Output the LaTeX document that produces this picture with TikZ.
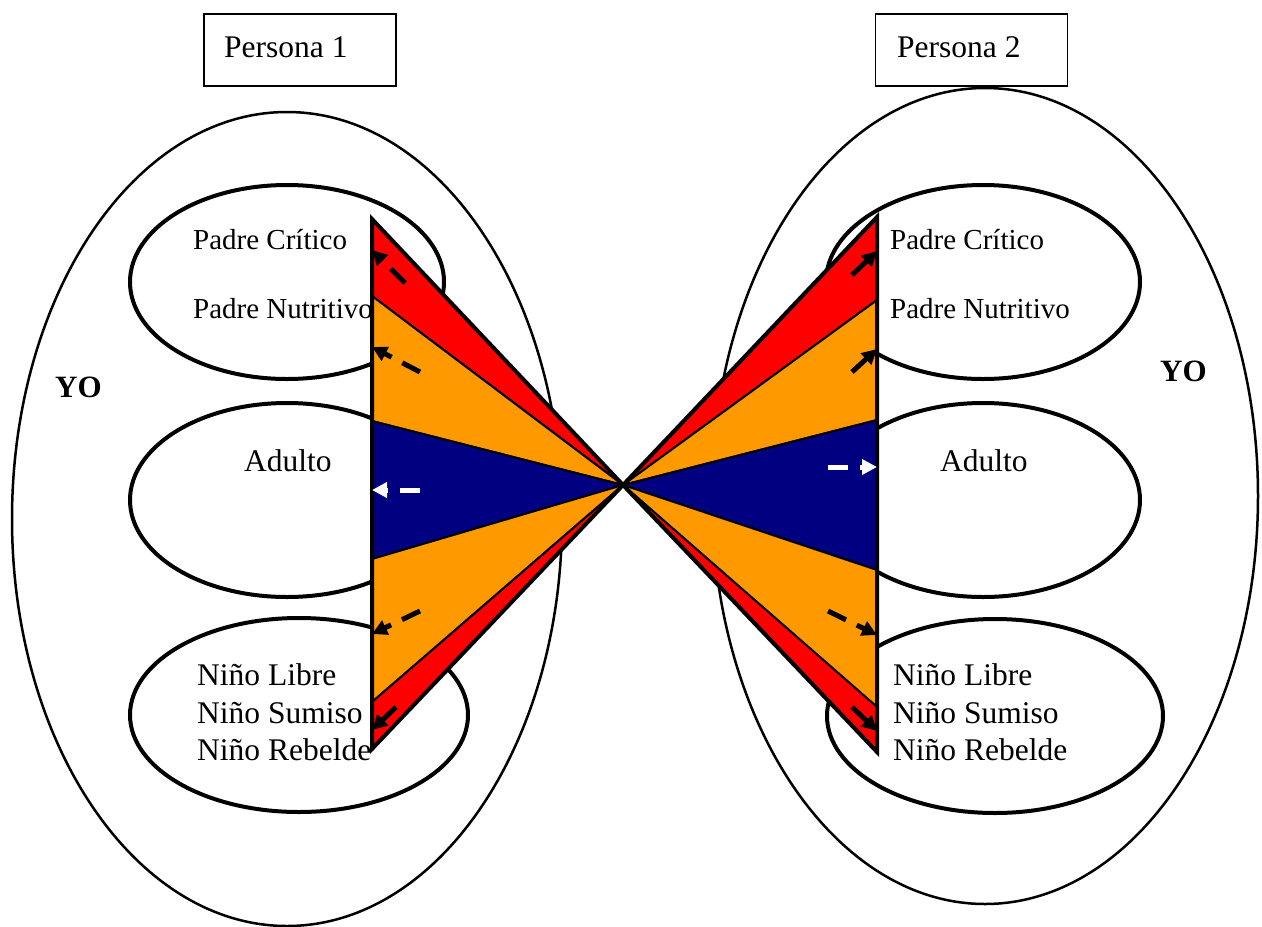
\documentclass[tikz,border=0pt]{standalone}
\usepackage{fontspec}
\setmainfont{Liberation Serif}
\usetikzlibrary{shapes.geometric,arrows.meta}
\definecolor{critred}{RGB}{255,0,0}
\definecolor{nutorange}{RGB}{255,153,0}
\definecolor{adultblue}{RGB}{0,0,128}
\tikzset{
  yoshape/.style={draw,ellipse,line width=2.5pt,inner sep=0pt},
  egoshape/.style={draw,ellipse,line width=4pt,inner sep=0pt,minimum height=194pt},
  lbl/.style={anchor=base west,inner sep=0pt,font=\fontsize{31.5}{35}\selectfont},
  plbl/.style={anchor=base west,inner sep=0pt,font=\fontsize{29}{33}\selectfont},
  namebox/.style={draw,line width=1.5pt,minimum width=192pt,minimum height=72pt,inner sep=0pt},
  wedge/.style={draw,line width=2pt,line join=miter},
  edgeline/.style={line width=4pt},
  flow/.style={line width=5pt,-{Triangle[length=15pt,width=15pt]}},
  dflow/.style={flow,dash pattern=on 20pt off 12pt}
}
\begin{document}
\begin{tikzpicture}[x=1pt,y=-1pt]
\useasboundingbox (0,0) rectangle (1262,927);

% outer ego-state containers
\node[yoshape,minimum width=550pt,minimum height=814pt] (yo1) at (287,519) {};
\node[yoshape,minimum width=546pt,minimum height=816pt] (yo2) at (985,496) {};

% ego states, person 1
\node[egoshape,minimum width=314pt] (p1) at (287,282) {};
\node[egoshape,minimum width=314pt] (a1) at (287,500) {};
\node[egoshape,minimum width=338pt] (n1) at (299,715) {};
% ego states, person 2
\node[egoshape,minimum width=314pt] (p2) at (983,282) {};
\node[egoshape,minimum width=314pt] (a2) at (983,500) {};
\node[egoshape,minimum width=336pt] (n2) at (995,716) {};

% labels
\node[plbl] (pc1) at (193,249) {Padre Crítico};
\node[plbl] (pn1) at (193,318) {Padre Nutritivo};
\node[lbl] (ad1) at (244,471) {Adulto};
\node[lbl] (nl1) at (197,685) {Niño Libre};
\node[lbl] (ns1) at (197,723) {Niño Sumiso};
\node[lbl] (nr1) at (197,760) {Niño Rebelde};
\node[lbl,font=\fontsize{31}{35}\selectfont\bfseries] (yol1) at (55,397) {YO};

\node[plbl] (pc2) at (890,249) {Padre Crítico};
\node[plbl] (pn2) at (890,318) {Padre Nutritivo};
\node[lbl] (ad2) at (940,471) {Adulto};
\node[lbl] (nl2) at (893,685) {Niño Libre};
\node[lbl] (ns2) at (893,723) {Niño Sumiso};
\node[lbl] (nr2) at (893,760) {Niño Rebelde};
\node[lbl,font=\fontsize{31}{35}\selectfont\bfseries] (yol2) at (1160,381) {YO};

% meeting point and wedge corners
\coordinate (o) at (623,485);
\coordinate (l0) at (372,219);
\coordinate (l1) at (372,296);
\coordinate (l2) at (372,421);
\coordinate (l3) at (372,559);
\coordinate (l4) at (372,702);
\coordinate (l5) at (372,749);
\coordinate (r0) at (877,217);
\coordinate (r1) at (877,300);
\coordinate (r2) at (877,420);
\coordinate (r3) at (877,570);
\coordinate (r4) at (877,707);
\coordinate (r5) at (877,752);

% wedges
\filldraw[wedge,fill=critred]    (o) -- (l0) -- (l1) -- cycle;
\filldraw[wedge,fill=nutorange]  (o) -- (l1) -- (l2) -- cycle;
\filldraw[wedge,fill=adultblue]  (o) -- (l2) -- (l3) -- cycle;
\filldraw[wedge,fill=nutorange]  (o) -- (l3) -- (l4) -- cycle;
\filldraw[wedge,fill=critred]    (o) -- (l4) -- (l5) -- cycle;
\filldraw[wedge,fill=critred]    (o) -- (r0) -- (r1) -- cycle;
\filldraw[wedge,fill=nutorange]  (o) -- (r1) -- (r2) -- cycle;
\filldraw[wedge,fill=adultblue]  (o) -- (r2) -- (r3) -- cycle;
\filldraw[wedge,fill=nutorange]  (o) -- (r3) -- (r4) -- cycle;
\filldraw[wedge,fill=critred]    (o) -- (r4) -- (r5) -- cycle;
\draw[edgeline,line cap=butt] (o) -- (l0) -- (l5) -- cycle;
\draw[edgeline,line cap=butt] (o) -- (r0) -- (r5) -- cycle;

% transaction arrows, person 1 side
\coordinate (t1a) at (405,283); \coordinate (h1a) at (372,250);
\coordinate (t1b) at (420,372); \coordinate (h1b) at (372,347);
\coordinate (t1c) at (420,490); \coordinate (h1c) at (372,490);
\coordinate (t1d) at (420,611); \coordinate (h1d) at (372,634);
\coordinate (t1e) at (396,707); \coordinate (h1e) at (372,730);
\draw[dflow] (t1a) -- (h1a);
\draw[dflow] (t1b) -- (h1b);
\draw[dflow,white] (t1c) -- (h1c);
\draw[dflow] (t1d) -- (h1d);
\draw[flow] (t1e) -- (h1e);

% transaction arrows, person 2 side
\coordinate (t2a) at (852,275); \coordinate (h2a) at (877,251);
\coordinate (t2b) at (852,372); \coordinate (h2b) at (877,349);
\coordinate (t2c) at (828,467); \coordinate (h2c) at (877,467);
\coordinate (t2d) at (828,611); \coordinate (h2d) at (877,635);
\coordinate (t2e) at (852,707); \coordinate (h2e) at (877,731);
\draw[flow] (t2a) -- (h2a);
\draw[flow] (t2b) -- (h2b);
\draw[dflow,white] (t2c) -- (h2c);
\draw[dflow] (t2d) -- (h2d);
\draw[flow] (t2e) -- (h2e);

% name boxes
\node[namebox] (b1) at (300,50) {};
\node[lbl] (bt1) at (224,57) {Persona 1};
\node[namebox] (b2) at (971.5,50) {};
\node[lbl] (bt2) at (897,57) {Persona 2};
\end{tikzpicture}
\end{document}
